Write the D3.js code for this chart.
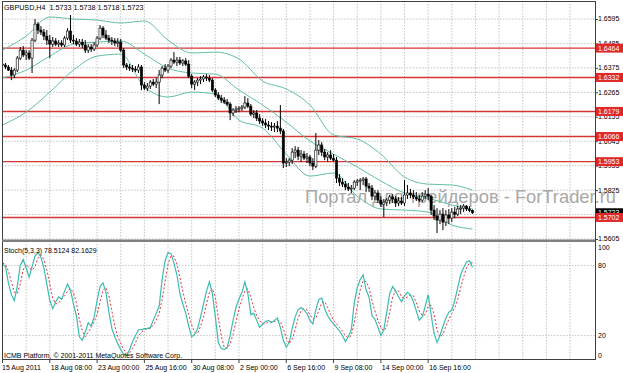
<!DOCTYPE html>
<html>
<head>
<meta charset="utf-8">
<script src="https://cdn.jsdelivr.net/npm/d3@7"></script>
<style>
body { margin: 0; background: #fff; }
svg text { font-family: "Liberation Sans", Arial, sans-serif; }
</style>
</head>
<body>
<div id="chart"></div>
<script>
// GBPUSD H4, 160 bars from 15 Aug 2011 16:00
const open = [1.6392,1.6388,1.6379,1.6365,1.6343,1.6365,1.6419,1.6455,1.6433,1.6442,1.6419,1.6500,1.6572,1.6545,1.6536,1.6518,1.6500,1.6482,1.6496,1.6482,
1.6487,1.6478,1.6509,1.6541,1.6500,1.6496,1.6482,1.6491,1.6478,1.6455,1.6469,1.6460,1.6478,1.6509,1.6554,1.6523,1.6509,1.6500,1.6496,1.6487,
1.6491,1.6455,1.6388,1.6379,1.6374,1.6370,1.6365,1.6379,1.6298,1.6284,1.6293,1.6311,1.6302,1.6311,1.6343,1.6374,1.6365,1.6383,1.6410,1.6401,
1.6410,1.6397,1.6406,1.6392,1.6338,1.6302,1.6311,1.6320,1.6325,1.6334,1.6329,1.6320,1.6275,1.6253,1.6239,1.6230,1.6221,1.6212,1.6172,1.6185,
1.6190,1.6194,1.6199,1.6217,1.6203,1.6167,1.6172,1.6149,1.6136,1.6127,1.6118,1.6113,1.6109,1.6113,1.6104,1.6091,1.5947,1.5951,1.5960,1.5996,
1.6005,1.5978,1.5987,1.5969,1.5974,1.5947,1.5933,1.6005,1.6028,1.5996,1.5974,1.5983,1.5969,1.5960,1.5879,1.5861,1.5852,1.5839,1.5830,1.5834,
1.5861,1.5866,1.5870,1.5875,1.5843,1.5834,1.5798,1.5812,1.5780,1.5762,1.5771,1.5780,1.5794,1.5785,1.5767,1.5776,1.5767,1.5803,1.5812,1.5803,
1.5794,1.5785,1.5780,1.5798,1.5807,1.5798,1.5735,1.5708,1.5690,1.5717,1.5681,1.5713,1.5699,1.5726,1.5717,1.5740,1.5744,1.5753,1.5740,1.5733];
const high = [1.6406,1.6397,1.6388,1.6379,1.6374,1.6428,1.6469,1.6473,1.6455,1.6455,1.6509,1.6595,1.6581,1.6563,1.6550,1.6545,1.6523,1.6514,1.6509,1.6500,
1.6500,1.6518,1.6554,1.6613,1.6523,1.6509,1.6505,1.6505,1.6500,1.6482,1.6482,1.6491,1.6518,1.6568,1.6563,1.6545,1.6523,1.6514,1.6509,1.6509,
1.6505,1.6464,1.6397,1.6392,1.6388,1.6383,1.6392,1.6388,1.6311,1.6307,1.6320,1.6325,1.6329,1.6365,1.6383,1.6392,1.6392,1.6419,1.6446,1.6424,
1.6424,1.6415,1.6419,1.6410,1.6347,1.6320,1.6329,1.6338,1.6343,1.6347,1.6343,1.6329,1.6284,1.6266,1.6253,1.6244,1.6235,1.6221,1.6194,1.6203,
1.6203,1.6208,1.6248,1.6239,1.6212,1.6185,1.6185,1.6167,1.6149,1.6145,1.6136,1.6131,1.6127,1.6136,1.6208,1.6100,1.5969,1.5969,1.6014,1.6023,
1.6019,1.6005,1.6001,1.5992,1.5983,1.5969,1.6082,1.6050,1.6041,1.6010,1.5996,1.6005,1.5987,1.5974,1.5897,1.5879,1.5866,1.5857,1.5848,1.5870,
1.5875,1.5879,1.5884,1.5884,1.5857,1.5848,1.5825,1.5825,1.5798,1.5785,1.5789,1.5803,1.5807,1.5798,1.5794,1.5794,1.5870,1.5848,1.5830,1.5825,
1.5816,1.5803,1.5816,1.5825,1.5834,1.5803,1.5758,1.5744,1.5735,1.5744,1.5735,1.5740,1.5744,1.5749,1.5753,1.5758,1.5762,1.5758,1.5753,1.5738];
const low = [1.6379,1.6370,1.6361,1.6320,1.6329,1.6356,1.6410,1.6424,1.6410,1.6410,1.6352,1.6491,1.6527,1.6523,1.6500,1.6478,1.6419,1.6469,1.6473,1.6469,
1.6469,1.6469,1.6500,1.6487,1.6482,1.6473,1.6469,1.6464,1.6442,1.6442,1.6446,1.6451,1.6469,1.6500,1.6509,1.6500,1.6487,1.6478,1.6473,1.6469,
1.6446,1.6374,1.6365,1.6361,1.6356,1.6356,1.6352,1.6275,1.6275,1.6271,1.6280,1.6293,1.6284,1.6212,1.6329,1.6356,1.6352,1.6374,1.6392,1.6383,
1.6388,1.6383,1.6383,1.6329,1.6284,1.6275,1.6293,1.6302,1.6311,1.6316,1.6311,1.6266,1.6244,1.6230,1.6217,1.6212,1.6203,1.6140,1.6158,1.6172,
1.6176,1.6181,1.6190,1.6194,1.6158,1.6149,1.6136,1.6122,1.6113,1.6104,1.6095,1.6091,1.6086,1.6086,1.6077,1.5924,1.5929,1.5933,1.5942,1.5969,
1.5960,1.5951,1.5960,1.5947,1.5933,1.5915,1.5924,1.5983,1.5978,1.5960,1.5951,1.5960,1.5951,1.5857,1.5843,1.5839,1.5825,1.5821,1.5812,1.5825,
1.5843,1.5825,1.5848,1.5816,1.5816,1.5780,1.5780,1.5767,1.5749,1.5704,1.5753,1.5762,1.5767,1.5749,1.5753,1.5758,1.5753,1.5785,1.5789,1.5785,
1.5776,1.5771,1.5771,1.5785,1.5780,1.5713,1.5690,1.5632,1.5672,1.5645,1.5663,1.5672,1.5681,1.5699,1.5708,1.5717,1.5726,1.5731,1.5726,1.5718];
const close = [1.6388,1.6379,1.6365,1.6343,1.6365,1.6419,1.6455,1.6433,1.6442,1.6419,1.6500,1.6572,1.6545,1.6536,1.6518,1.6500,1.6482,1.6496,1.6482,1.6487,
1.6478,1.6509,1.6541,1.6500,1.6496,1.6482,1.6491,1.6478,1.6455,1.6469,1.6460,1.6478,1.6509,1.6554,1.6523,1.6509,1.6500,1.6496,1.6487,1.6491,
1.6455,1.6388,1.6379,1.6374,1.6370,1.6365,1.6379,1.6298,1.6284,1.6293,1.6311,1.6302,1.6311,1.6343,1.6374,1.6365,1.6383,1.6410,1.6401,1.6410,
1.6397,1.6406,1.6392,1.6338,1.6302,1.6311,1.6320,1.6325,1.6334,1.6329,1.6320,1.6275,1.6253,1.6239,1.6230,1.6221,1.6212,1.6172,1.6185,1.6190,
1.6194,1.6199,1.6217,1.6203,1.6167,1.6172,1.6149,1.6136,1.6127,1.6118,1.6113,1.6109,1.6113,1.6104,1.6091,1.5947,1.5951,1.5960,1.5996,1.6005,
1.5978,1.5987,1.5969,1.5974,1.5947,1.5933,1.6005,1.6028,1.5996,1.5974,1.5983,1.5969,1.5960,1.5879,1.5861,1.5852,1.5839,1.5830,1.5834,1.5861,
1.5866,1.5870,1.5875,1.5843,1.5834,1.5798,1.5812,1.5780,1.5762,1.5771,1.5780,1.5794,1.5785,1.5767,1.5776,1.5767,1.5803,1.5812,1.5803,1.5794,
1.5785,1.5780,1.5798,1.5807,1.5798,1.5735,1.5708,1.5690,1.5717,1.5681,1.5713,1.5699,1.5726,1.5717,1.5740,1.5744,1.5753,1.5740,1.5733,1.5723];

// Bollinger bands (20,2) read at every 8th bar
const bandBars = [0,8,16,24,32,40,48,56,64,72,80,88,96,104,112,120,128,136,144,152,159];
const bandUpper = [1.6455,1.6518,1.6604,1.6595,1.6590,1.6577,1.6586,1.6500,1.6442,1.6446,1.6415,1.6316,1.6280,1.6208,1.6073,1.6055,1.5987,1.5884,1.5852,1.5848,1.5825];
const bandMiddle = [1.6329,1.6365,1.6428,1.6482,1.6491,1.6496,1.6437,1.6374,1.6352,1.6347,1.6275,1.6208,1.6131,1.6046,1.5987,1.5929,1.5866,1.5812,1.5789,1.5758,1.5740];
const bandLower = [1.6118,1.6176,1.6266,1.6365,1.6428,1.6437,1.6289,1.6244,1.6266,1.6257,1.6140,1.6104,1.5987,1.5888,1.5902,1.5798,1.5740,1.5735,1.5726,1.5668,1.5650];

// Stochastic (5,3,3)
const stochK = [81,79,65,55,50,62,80,85,78,70,79,88,91,87,78,64,50,43,49,53,51,58,64,59,47,37,19,16,23,31,28,36,50,62,65,57,40,26,19,13,
8,4,3,8,15,20,25,25,26,26,27,33,39,45,68,84,91,90,82,72,56,47,39,28,19,21,26,36,47,58,66,56,36,14,9,8,10,20,33,44,
51,57,66,56,38,39,33,27,30,32,33,31,33,35,27,16,10,14,26,36,42,44,42,39,33,30,42,51,52,43,37,33,30,27,24,20,15,19,25,48,
61,68,72,59,53,37,34,27,20,25,40,56,62,58,53,49,54,57,55,49,41,33,36,45,55,38,22,14,20,28,35,40,42,50,61,72,78,83,84,78.5124];
const stochD = [82,81,75,66,57,56,64,76,81,78,76,79,86,89,85,76,64,52,47,48,51,54,58,60,57,48,34,24,19,23,27,32,38,49,59,61,54,41,28,19,
13,8,5,5,9,14,20,23,25,26,26,29,33,39,51,66,81,88,88,81,70,58,47,38,29,23,22,28,36,47,57,60,53,35,20,10,9,13,21,32,
43,51,58,60,53,44,37,33,30,30,32,32,32,33,32,26,18,13,17,25,35,41,43,42,38,34,35,41,48,49,44,38,33,30,27,24,20,18,20,31,
45,59,67,66,61,50,41,33,27,24,28,40,53,59,58,53,52,53,55,54,48,41,37,38,45,46,38,25,19,21,28,34,39,44,51,61,70,78,82,82.1629];

const priceTicks = [1.6595,1.6485,1.6375,1.6265,1.6155,1.6045,1.5935,1.5825,1.5715,1.5605];
const levels = [1.6464,1.6332,1.6179,1.6066,1.5953,1.5702];
const bid = 1.5723;
const stochLevels = [20,80];
const stochLabels = [100,80,20,0];
const dateBars = [0,16,32,48,64,80,96,112,128,144];
const dateLabels = ["15 Aug 2011","18 Aug 08:00","23 Aug 00:00","25 Aug 16:00","30 Aug 08:00","2 Sep 00:00","6 Sep 16:00","9 Sep 08:00","14 Sep 00:00","16 Sep 16:00"];

const W = 623, H = 373;
const pLeft = 2, pRight = 595, pTop = 1, mainBottom = 240, stTop = 242, stBottom = 359;

const svg = d3.select("#chart").append("svg")
  .attr("width", W).attr("height", H);

const x = d3.scaleLinear().domain([0, 159]).range([2.5, 472.5]);
const y = d3.scaleLinear().domain([1.5605, 1.6595]).range([239, 19]);
const ys = d3.scaleLinear().domain([0, 100]).range([359, 242]);

const defs = svg.append("defs");
defs.append("clipPath").attr("id", "mainClip")
  .append("rect").attr("x", pLeft).attr("y", pTop).attr("width", pRight - pLeft).attr("height", mainBottom - pTop);
defs.append("clipPath").attr("id", "stClip")
  .append("rect").attr("x", pLeft).attr("y", stTop).attr("width", pRight - pLeft).attr("height", stBottom - stTop);

// grid
const grid = svg.append("g").attr("stroke", "#c4c4c4").attr("stroke-dasharray", "1.5,1.5").attr("stroke-width", 1);
const gridBars = d3.range(8, 200, 8);
grid.selectAll(".gv").data(gridBars).join("line")
  .attr("x1", d => x(d)).attr("x2", d => x(d)).attr("y1", pTop).attr("y2", stBottom);
grid.selectAll(".gh").data(priceTicks).join("line")
  .attr("x1", pLeft).attr("x2", pRight).attr("y1", d => y(d)).attr("y2", d => y(d));
grid.selectAll(".gs").data(stochLevels).join("line")
  .attr("x1", pLeft).attr("x2", pRight).attr("y1", d => ys(d)).attr("y2", d => ys(d));

// watermark
svg.append("text").attr("x", 305).attr("y", 203)
  .attr("font-size", 17.5).attr("fill", "#a8a8a8")
  .attr("textLength", 311).attr("lengthAdjust", "spacingAndGlyphs")
  .text("Портал для трейдеров - ForTrader.ru");

const main = svg.append("g").attr("clip-path", "url(#mainClip)");

// horizontal levels
main.selectAll(".lvl").data(levels).join("line")
  .attr("x1", pLeft).attr("x2", pRight)
  .attr("y1", d => y(d)).attr("y2", d => y(d))
  .attr("stroke", "#d83434").attr("stroke-width", 1.4);

// bollinger bands
const bandLine = arr => d3.line()
  .x((d, i) => x(bandBars[i])).y(d => y(d))
  .curve(d3.curveMonotoneX)(arr);
[bandUpper, bandMiddle, bandLower].forEach(arr => {
  main.append("path").attr("d", bandLine(arr))
    .attr("fill", "none").attr("stroke", "#62bfa6").attr("stroke-width", 1);
});

// candles
const idx = d3.range(close.length);
main.selectAll(".wick").data(idx).join("line")
  .attr("x1", i => x(i)).attr("x2", i => x(i))
  .attr("y1", i => y(high[i])).attr("y2", i => y(low[i]))
  .attr("stroke", "#000").attr("stroke-width", 1);
main.selectAll(".body").data(idx).join("rect")
  .attr("x", i => x(i) - 1.1).attr("width", 2.2)
  .attr("y", i => y(Math.max(open[i], close[i])))
  .attr("height", i => Math.max(1, Math.abs(y(open[i]) - y(close[i]))))
  .attr("fill", i => close[i] > open[i] ? "#fff" : "#000")
  .attr("stroke", "#000").attr("stroke-width", 0.6);

// stochastic
const st = svg.append("g").attr("clip-path", "url(#stClip)");
st.append("path").datum(stochD)
  .attr("d", d3.line().x((d, i) => x(i)).y(d => ys(d)))
  .attr("fill", "none").attr("stroke", "#e0343c").attr("stroke-width", 1).attr("stroke-dasharray", "2,2");
st.append("path").datum(stochK)
  .attr("d", d3.line().x((d, i) => x(i)).y(d => ys(d)))
  .attr("fill", "none").attr("stroke", "#3bbcb0").attr("stroke-width", 1.2);

// frames
svg.append("line").attr("x1", pLeft).attr("x2", pRight).attr("y1", pTop + 0.5).attr("y2", pTop + 0.5).attr("stroke", "#404040");
svg.append("line").attr("x1", pLeft + 0.5).attr("x2", pLeft + 0.5).attr("y1", pTop).attr("y2", stBottom).attr("stroke", "#404040");
svg.append("line").attr("x1", pRight + 0.5).attr("x2", pRight + 0.5).attr("y1", pTop).attr("y2", stBottom + 1).attr("stroke", "#404040");
svg.append("rect").attr("x", pLeft).attr("y", mainBottom - 0.5).attr("width", pRight - pLeft).attr("height", 2.5).attr("fill", "#808080");
svg.append("line").attr("x1", pLeft).attr("x2", pRight + 1).attr("y1", stBottom + 0.5).attr("y2", stBottom + 0.5).attr("stroke", "#404040");

// price axis
const axis = svg.append("g").attr("font-size", 7).attr("fill", "#000");
axis.selectAll(".pt").data(priceTicks).join("text")
  .attr("x", 598).attr("y", d => y(d)).attr("dy", "0.35em").text(d => d.toFixed(4));
svg.selectAll(".ptk").data(priceTicks).join("line")
  .attr("x1", pRight).attr("x2", pRight + 3).attr("y1", d => y(d) + 0.5).attr("y2", d => y(d) + 0.5).attr("stroke", "#404040");

// bid label
svg.append("rect").attr("x", 596).attr("y", y(bid) - 4.5).attr("width", 27).attr("height", 9).attr("fill", "#000");
svg.append("text").attr("x", 598).attr("y", y(bid)).attr("dy", "0.35em").attr("font-size", 7).attr("fill", "#fff").text(bid.toFixed(4));

// level labels
svg.selectAll(".lr").data(levels).join("rect")
  .attr("x", 596).attr("y", d => y(d) - 4.5).attr("width", 27).attr("height", 9).attr("fill", "#e02828");
svg.selectAll(".lt").data(levels).join("text")
  .attr("x", 598).attr("y", d => y(d)).attr("dy", "0.35em").attr("font-size", 7).attr("fill", "#fff")
  .text(d => d.toFixed(4));

// stochastic axis
svg.selectAll(".sl").data(stochLabels).join("text")
  .attr("x", 598).attr("y", d => Math.min(356, Math.max(248, ys(d)))).attr("dy", "0.35em")
  .attr("font-size", 7).text(d => d);

// date axis
svg.selectAll(".dtk").data(dateBars).join("line")
  .attr("x1", d => x(d)).attr("x2", d => x(d)).attr("y1", stBottom).attr("y2", stBottom + 4).attr("stroke", "#404040");
svg.selectAll(".dl").data(dateLabels).join("text")
  .attr("x", (d, i) => i === 0 ? 2 : x(dateBars[i]) + 1).attr("y", 369.5)
  .attr("font-size", 7).text(d => d);

// captions
svg.append("text").attr("x", 4).attr("y", 9.5).attr("font-size", 7.2)
  .attr("xml:space", "preserve").text("GBPUSD,H4  1.5733 1.5738 1.5718 1.5723");
svg.append("text").attr("x", 4).attr("y", 252.5).attr("font-size", 7).text("Stoch(5,3,3) 78.5124 82.1629");
svg.append("text").attr("x", 4).attr("y", 357.5).attr("font-size", 7).text("ICMB Platform, © 2001-2011 MetaQuotes Software Corp.");
</script>
</body>
</html>
